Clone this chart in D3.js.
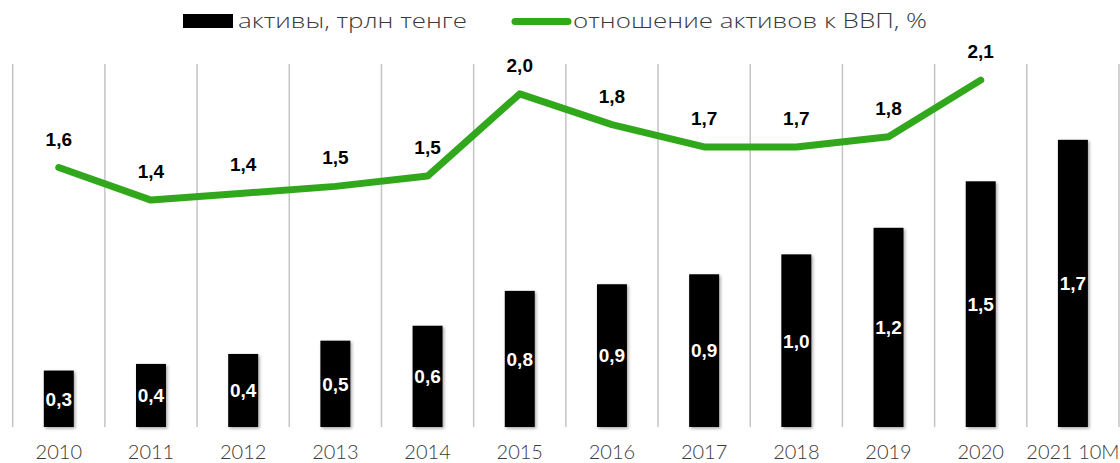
<!DOCTYPE html>
<html>
<head>
<meta charset="utf-8">
<script src="https://cdn.jsdelivr.net/npm/d3@7"></script>
<style>
  html, body { margin: 0; padding: 0; background: #fff; }
  svg { display: block; }
</style>
</head>
<body>
<div id="chart"></div>
<script>
// Assets of the sector, trillion tenge (bars) and ratio to GDP, % (line)
const categories = ['2010', '2011', '2012', '2013', '2014', '2015', '2016', '2017', '2018', '2019', '2020', '2021 10M'];
const assets = [0.34, 0.38, 0.44, 0.52, 0.61, 0.82, 0.86, 0.92, 1.04, 1.20, 1.48, 1.73];
const ratioGdp = [1.59, 1.40, 1.44, 1.48, 1.54, 2.02, 1.84, 1.71, 1.71, 1.77, 2.10];
const legendLabels = ['активы, трлн тенге', 'отношение активов к ВВП, %'];

const width = 1120, height = 463;
const green = '#31a81c';
const fmt = v => v.toFixed(1).replace('.', ',');

const svg = d3.select('#chart').append('svg')
  .attr('width', width)
  .attr('height', height);

// soft shadow under the bars
const shadow = svg.append('defs').append('filter')
  .attr('id', 'shadow')
  .attr('x', '-20%').attr('y', '-5%')
  .attr('width', '150%').attr('height', '115%');
shadow.append('feDropShadow')
  .attr('dx', 1.5).attr('dy', 1.5)
  .attr('stdDeviation', 1.6)
  .attr('flood-color', '#000')
  .attr('flood-opacity', 0.35);

const x = d3.scaleBand()
  .domain(categories)
  .range([12.7, 1119]);

const yBar = d3.scaleLinear().domain([0, 2.2]).range([427, 61.8]);
const yLine = d3.scaleLinear().domain([0, 2.2]).range([440, 63]);

const barW = x.bandwidth() * 0.325;
const cx = d => x(d) + x.bandwidth() / 2;

// vertical gridlines between categories
const gridX = categories.map(c => x(c)).concat([x.range()[1]]);
svg.append('g')
  .selectAll('line')
  .data(gridX)
  .enter().append('line')
  .attr('x1', d => d).attr('x2', d => d)
  .attr('y1', 64).attr('y2', 427)
  .attr('stroke', '#c4c4c4')
  .attr('stroke-width', 1.5);

// bars
svg.append('g')
  .selectAll('rect')
  .data(assets)
  .enter().append('rect')
  .attr('x', (d, i) => cx(categories[i]) - barW / 2)
  .attr('y', d => yBar(d))
  .attr('width', barW)
  .attr('height', d => yBar(0) - yBar(d))
  .attr('fill', '#000')
  .attr('filter', 'url(#shadow)');

// bar labels
svg.append('g')
  .selectAll('text')
  .data(assets)
  .enter().append('text')
  .attr('x', (d, i) => cx(categories[i]))
  .attr('y', d => (yBar(d) + yBar(0)) / 2)
  .attr('dy', '0.36em')
  .attr('text-anchor', 'middle')
  .attr('font-family', '"Liberation Sans", Arial, sans-serif')
  .attr('font-weight', 'bold')
  .attr('font-size', 19)
  .attr('fill', '#fff')
  .text(d => fmt(d));

// ratio line
const line = d3.line()
  .x((d, i) => cx(categories[i]))
  .y(d => yLine(d));

svg.append('path')
  .datum(ratioGdp)
  .attr('d', line)
  .attr('fill', 'none')
  .attr('stroke', green)
  .attr('stroke-width', 7)
  .attr('stroke-linejoin', 'round')
  .attr('stroke-linecap', 'round');

svg.append('g')
  .selectAll('text')
  .data(ratioGdp)
  .enter().append('text')
  .attr('x', (d, i) => cx(categories[i]))
  .attr('y', d => yLine(d) - 22)
  .attr('text-anchor', 'middle')
  .attr('font-family', '"Liberation Sans", Arial, sans-serif')
  .attr('font-weight', 'bold')
  .attr('font-size', 19)
  .attr('fill', '#000')
  .text(d => fmt(d));

// category labels
svg.append('g')
  .selectAll('text')
  .data(categories)
  .enter().append('text')
  .attr('x', d => cx(d))
  .attr('y', 459)
  .attr('text-anchor', 'middle')
  .attr('font-family', 'Lato, "Open Sans", sans-serif')
  .attr('font-weight', 300)
  .attr('font-size', 20)
  .attr('fill', '#3a3a3a')
  .text(d => d);

// legend
const legend = svg.append('g')
  .attr('font-family', '"Open Sans", Lato, sans-serif')
  .attr('font-weight', 300)
  .attr('font-size', 20)
  .attr('fill', '#3a3a3a');

legend.append('rect')
  .attr('x', 183).attr('y', 14)
  .attr('width', 50).attr('height', 14)
  .attr('fill', '#000');
legend.append('text')
  .attr('x', 238).attr('y', 28)
  .attr('textLength', 229)
  .attr('lengthAdjust', 'spacingAndGlyphs')
  .text(legendLabels[0]);

legend.append('line')
  .attr('x1', 515).attr('x2', 568)
  .attr('y1', 21.5).attr('y2', 21.5)
  .attr('stroke', green)
  .attr('stroke-width', 7)
  .attr('stroke-linecap', 'round');
legend.append('text')
  .attr('x', 573).attr('y', 28)
  .attr('textLength', 354)
  .attr('lengthAdjust', 'spacingAndGlyphs')
  .text(legendLabels[1]);
</script>
</body>
</html>
